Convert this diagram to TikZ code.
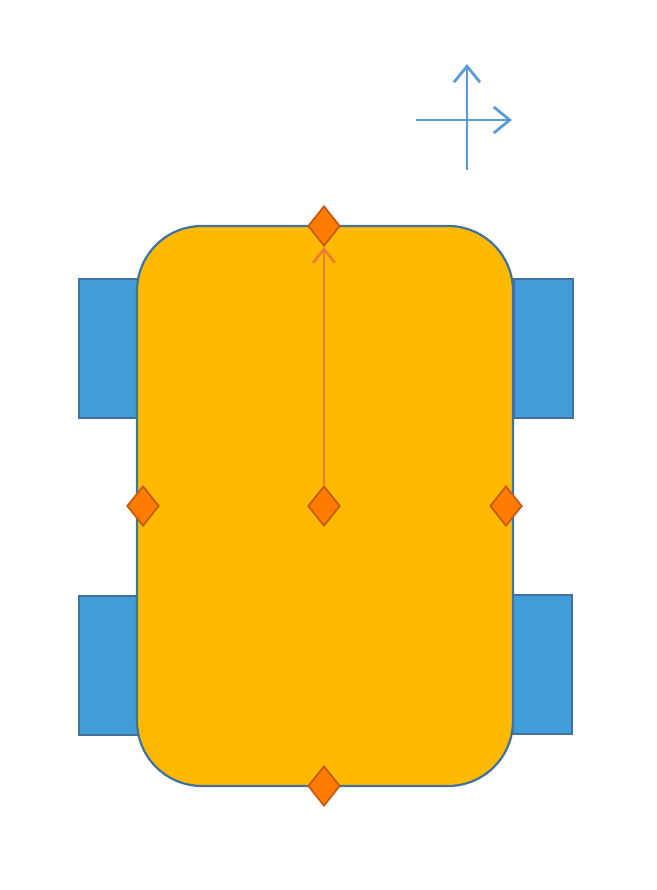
\documentclass[tikz,border=0pt]{standalone}
\usetikzlibrary{shapes.geometric,arrows.meta}
\definecolor{bodyfill}{HTML}{FFBA00}
\definecolor{edgeblue}{HTML}{41719C}
\definecolor{wheelfill}{HTML}{429CD8}
\definecolor{dfill}{HTML}{FF7C00}
\definecolor{dedge}{HTML}{C55A11}
\definecolor{arrorange}{HTML}{ED7D31}
\definecolor{axisblue}{HTML}{5B9BD5}
\tikzset{
  wheel/.style={draw=edgeblue,fill=wheelfill,line width=2pt,minimum width=59pt,minimum height=139pt,inner sep=0pt,anchor=north west},
  marker/.style={diamond,draw=dedge,fill=dfill,line width=1.8pt,minimum width=32pt,minimum height=40pt,inner sep=0pt,aspect=0.8},
  axisarrow/.style={draw=axisblue,line width=2.8pt,-{Straight Barb[length=16pt,width=26pt,line width=2.8pt]}},
}
\begin{document}
\begin{tikzpicture}[x=1pt,y=-1pt]
\useasboundingbox (0,0) rectangle (656,890);
\node[wheel] (wfl) at (78,278) {};
\node[wheel] (wfr) at (513,278) {};
\node[wheel] (wbl) at (78,595) {};
\node[wheel] (wbr) at (512,594) {};
\draw[draw=edgeblue,fill=bodyfill,line width=2.2pt,rounded corners=65pt] (137,226) rectangle (513,786);
\node[marker] (top) at (324,226) {};
\node[marker] (mid) at (324,506) {};
\node[marker] (left) at (143,506) {};
\node[marker] (right) at (506,506) {};
\node[marker] (bot) at (324,786) {};
\draw[draw=arrorange,line width=2.8pt,-{Straight Barb[length=14pt,width=22pt,line width=2.6pt]}] (mid.north) -- (top.south);
\coordinate (hx0) at (416,120);
\coordinate (hx1) at (512,120);
\coordinate (vy0) at (467,170);
\coordinate (vy1) at (467,64);
\draw[axisarrow] (hx0) -- (hx1);
\draw[axisarrow] (vy0) -- (vy1);
\end{tikzpicture}
\end{document}
